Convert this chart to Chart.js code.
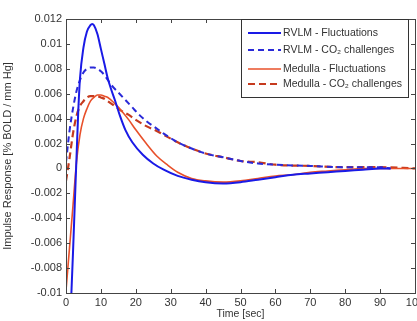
<!DOCTYPE html>
<html><head><meta charset="utf-8">
<script src="https://cdn.jsdelivr.net/npm/chart.js@4/dist/chart.umd.min.js"></script>
<style>html,body{margin:0;padding:0;overflow:hidden;background:#fff}#wrap{width:430px;height:321px}</style>
</head><body><div id="wrap"><canvas id="c" width="430" height="321"></canvas></div>
<script>
const seriesLabels = ["RVLM - Fluctuations", "RVLM - CO\u2082 challenges", "Medulla - Fluctuations", "Medulla - CO\u2082 challenges"];
const xTicks = [0,10,20,30,40,50,60,70,80,90,100];
const yTicks = [0.012,0.01,0.008,0.006,0.004,0.002,0,-0.002,-0.004,-0.006,-0.008,-0.01];

const rvlmFlucT = [1.4,2,2.5,3,3.5,4,5,6,7,7.5,8,9,10,11,12,13,14,15.5,17,19,22,25,28,32,36,40,45,50,55,60,65,70,75,80,85,90,93];
const rvlmFlucV = [-0.011,-0.0068,-0.003,0.0008,0.0045,0.0072,0.0097,0.011,0.0115,0.0116,0.0115,0.0108,0.0096,0.0084,0.0072,0.0063,0.0055,0.0042,0.0031,0.0021,0.0011,0.0004,-0.0001,-0.0006,-0.0009,-0.0011,-0.0012,-0.0011,-0.0009,-0.0007,-0.0005,-0.0004,-0.0003,-0.0002,-0.0001,0,0];

const rvlmCo2T = [0,1,2,3,4,5,6,7,8,9,10,11,12,13,15,17,19,21,23,26,28,32,36,40,45,50,55,60,70,80,90,93];
const rvlmCo2V = [0.0005,0.003,0.0048,0.0062,0.0071,0.0077,0.008,0.0081,0.0081,0.008,0.0078,0.0075,0.0071,0.0067,0.0061,0.0055,0.0049,0.0043,0.0038,0.0032,0.0028,0.0021,0.0016,0.0012,0.0009,0.0006,0.0004,0.0003,0.0002,0.0001,0.0001,0];

const medFlucT = [0,1,2,3,4,5,6,7,8,9,10,11,12,14,16,18,20,23,26,29,32,36,40,45,50,55,60,65,70,75,80,85,90,100];
const medFlucV = [-0.0098,-0.0064,-0.003,0.0005,0.0027,0.004,0.0048,0.0054,0.0057,0.0059,0.0059,0.0058,0.0057,0.0052,0.0046,0.0039,0.0031,0.002,0.001,0.0003,-0.0003,-0.0008,-0.001,-0.0011,-0.001,-0.0008,-0.0006,-0.0005,-0.0003,-0.0002,-0.0001,0,0,0];

const medCo2T = [0,1,2,3,4,5,6,7,8,9,10,11,12,14,16,18,20,23,26,28,32,36,40,45,50,55,60,70,80,90,100];
const medCo2V = [-0.001,0.0008,0.0028,0.0042,0.005,0.0054,0.0057,0.0058,0.0058,0.0058,0.0057,0.0056,0.0054,0.005,0.0046,0.0043,0.0039,0.0034,0.003,0.0027,0.0021,0.0016,0.0012,0.0009,0.0006,0.0005,0.0003,0.0002,0.0001,0.0001,0];

const colors = ["#1a1ae6", "#2a2ad8", "#e8502a", "#c63a1e"];
const dashes = [[], [6,4], [], [7,4]];
const widths = [2, 2, 1.6, 2.2];

function pts(t, v){ return t.map((x,i)=>({x:x, y:v[i]})); }
const seriesData = [pts(rvlmFlucT,rvlmFlucV), pts(rvlmCo2T,rvlmCo2V), pts(medFlucT,medFlucV), pts(medCo2T,medCo2V)];

const font = "'Liberation Sans', Arial, sans-serif";

const frame = {
  id:'frame',
  afterDraw(chart){
    const ctx = chart.ctx, a = chart.chartArea;
    const xs = chart.scales.x, ys = chart.scales.y;
    ctx.save();
    ctx.strokeStyle = '#444'; ctx.lineWidth = 1;
    ctx.strokeRect(Math.round(a.left)+0.5, Math.round(a.top)+0.5, Math.round(a.right-a.left), Math.round(a.bottom-a.top));
    ctx.beginPath();
    xTicks.forEach(v=>{ const p=Math.round(xs.getPixelForValue(v))+0.5;
      ctx.moveTo(p,a.bottom); ctx.lineTo(p,a.bottom-4); ctx.moveTo(p,a.top); ctx.lineTo(p,a.top+4); });
    yTicks.forEach(v=>{ const p=Math.round(ys.getPixelForValue(v))+0.5;
      ctx.moveTo(a.left,p); ctx.lineTo(a.left+4,p); ctx.moveTo(a.right,p); ctx.lineTo(a.right-4,p); });
    ctx.stroke();
    // legend
    const bx=241.5, by=a.top+0.5, bw=167, bh=78;
    ctx.fillStyle='#fff'; ctx.fillRect(bx,by,bw,bh);
    ctx.strokeStyle='#333'; ctx.strokeRect(bx,by,bw,bh);
    const rows=[33,50,69,84];
    ctx.font = "10.5px " + font; ctx.textBaseline='middle'; ctx.textAlign='left';
    seriesLabels.forEach((lab,i)=>{
      ctx.beginPath(); ctx.setLineDash(dashes[i]); ctx.strokeStyle=colors[i]; ctx.lineWidth=widths[i];
      ctx.moveTo(248,rows[i]); ctx.lineTo(281,rows[i]); ctx.stroke(); ctx.setLineDash([]);
      ctx.fillStyle='#333'; ctx.fillText(lab,283,rows[i]);
    });
    ctx.restore();
  }
};

new Chart(document.getElementById('c'), {
  type:'line',
  data:{ datasets: seriesData.map((d,i)=>({
    label: seriesLabels[i], data:d, borderColor:colors[i], borderWidth:widths[i], borderDash:dashes[i],
    pointRadius:0, fill:false, cubicInterpolationMode:'monotone'
  }))},
  options:{
    responsive:false, animation:false,
    layout:{padding:{left:0, top:19, right:15, bottom:0}},
    plugins:{legend:{display:false}, tooltip:{enabled:false}},
    scales:{
      x:{ type:'linear', min:0, max:100,
        afterBuildTicks(s){ s.ticks = xTicks.map(v=>({value:v})); },
        afterFit(s){ s.height = 28; },
        grid:{display:false, drawTicks:false}, border:{display:false},
        ticks:{ color:'#333', font:{family:font,size:11}, padding:3, maxRotation:0, autoSkip:false },
        title:{display:true, text:'Time [sec]', color:'#333', font:{family:font,size:10.5}, padding:{top:0,bottom:1}}
      },
      y:{ type:'linear', min:-0.01, max:0.012,
        afterBuildTicks(s){ s.ticks = yTicks.map(v=>({value:v})); },
        afterFit(s){ s.width = 66; },
        grid:{display:false, drawTicks:false}, border:{display:false},
        ticks:{ color:'#333', font:{family:font,size:11}, padding:4, autoSkip:false, callback:v=>String(+v.toFixed(3)) },
        title:{display:true, text:'Impulse Response [% BOLD / mm Hg]', color:'#333', font:{family:font,size:11}, padding:{top:1,bottom:0}}
      }
    }
  },
  plugins:[frame]
});
</script></body></html>
